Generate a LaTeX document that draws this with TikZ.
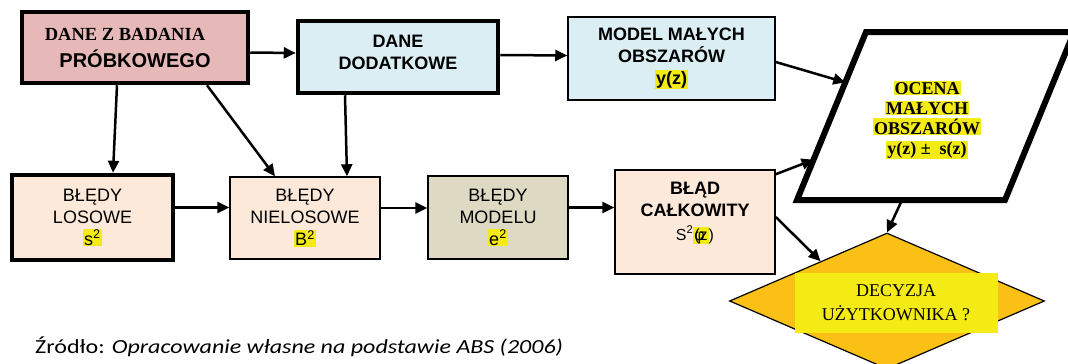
\documentclass[tikz,border=0pt]{standalone}
\usepackage{fontspec}
\setmainfont{Liberation Serif}
\setsansfont{Liberation Sans}
\newfontfamily\srcfont[FakeStretch=1.2]{Carlito}
\usetikzlibrary{arrows.meta,shapes.geometric,calc}
\definecolor{roz}{HTML}{E6B9B8}
\definecolor{blekit}{HTML}{DAEEF3}
\definecolor{brzoskw}{HTML}{FDE9D9}
\definecolor{oliwka}{HTML}{DDD9C3}
\definecolor{zolty}{HTML}{F5EB14}
\definecolor{pomar}{HTML}{FBC015}
\newcommand{\hl}[1]{\colorbox{zolty}{#1}}
\setlength{\fboxsep}{1pt}
\tikzset{
  blok/.style={draw, rectangle, inner sep=0pt, align=center, line width=1.5pt,
    font=\sffamily\fontsize{18}{22}\selectfont},
  napis/.style={inner sep=0pt, align=center, font=\sffamily\bfseries\fontsize{18}{22}\selectfont},
  gruby/.style={line width=4.5pt},
  strz/.style={line width=2.5pt, -{Triangle[length=12pt,width=11pt]}}
}
\begin{document}
\begin{tikzpicture}[x=1pt,y=-1pt]
  \useasboundingbox (0,0) rectangle (1068,364);
  % gorny rzad
  \node[blok, gruby, fill=roz, minimum width=226pt, minimum height=71pt] (probka) at (135,47.5)
    {{\rmfamily\bfseries\fontsize{18.5}{20}\selectfont DANE Z BADANIA\hspace*{20pt}}\\[5pt]{\bfseries\fontsize{20}{24}\selectfont PRÓBKOWEGO}};
  \node[blok, gruby, fill=blekit, minimum width=200pt, minimum height=72pt] (dodatk) at (398,57) {};
  \node[napis] (dodatktxt) at ([yshift=5pt]dodatk.center) {DANE\\DODATKOWE};
  \node[blok, fill=blekit, minimum width=207pt, minimum height=83pt] (model) at (671.5,58.5)
    {\bfseries MODEL MAŁYCH\\\bfseries OBSZARÓW\\\bfseries\hl{y(z)}};
  % dolny rzad
  \node[blok, gruby, fill=brzoskw, minimum width=161pt, minimum height=85pt] (losowe) at (92.5,217.5)
    {BŁĘDY\\LOSOWE\\\hl{s\textsuperscript{2}}};
  \node[blok, fill=brzoskw, minimum width=150pt, minimum height=82pt] (nielos) at (305,218)
    {BŁĘDY\\NIELOSOWE\\\hl{B\textsuperscript{2}}};
  \node[blok, fill=oliwka, minimum width=140pt, minimum height=83pt] (modelu) at (498,217.5)
    {BŁĘDY\\MODELU\\\hl{e\textsuperscript{2}}};
  \node[blok, fill=brzoskw, minimum width=160pt, minimum height=104pt] (calk) at (695,222) {};
  \node[napis] (calktxt) at ([yshift=9pt]calk.center)
    {BŁĄD\\CAŁKOWITY\\[2pt]{\mdseries\fontsize{16}{20}\selectfont S\textsuperscript{2}\hl{\rlap{φ}(z})}};
  % ocena
  \coordinate (p1) at (866,32);
  \coordinate (p2) at (1074,32);
  \coordinate (p3) at (1005,200);
  \coordinate (p4) at (797,200);
  \draw[line width=6pt, fill=white] (p1) -- (p2) -- (p3) -- (p4) -- cycle;
  \node[align=center, inner sep=0pt, font=\rmfamily\bfseries\fontsize{18}{20}\selectfont] (ocena) at (927,120)
    {\hl{OCENA}\\\hl{MAŁYCH}\\\hl{OBSZARÓW}\\\hl{y(z) ±\ \ s(z)}};
  \coordinate (we1) at ($(p1)!0.3!(p4)$);
  \coordinate (we2) at ($(p1)!0.76!(p4)$);
  \coordinate (wy) at ($(p4)!0.505!(p3)$);
  % decyzja
  \node[diamond, draw, fill=pomar, line width=1.2pt, aspect=2.3, inner sep=0pt,
    minimum width=315pt, minimum height=136pt] (decyzja) at (887,301) {};
  \node[fill=zolty, minimum width=203pt, minimum height=60pt, align=center, inner sep=0pt,
    font=\rmfamily\fontsize{18}{24}\selectfont] (dectxt) at (896,303) {DECYZJA\\UŻYTKOWNIKA ?};
  % strzalki
  \draw[strz] ([yshift=-5pt]probka.east) -- ([yshift=4pt]dodatk.west);
  \draw[strz] ([yshift=2pt]dodatk.east) -- ([yshift=3pt]model.west);
  \draw[strz] ([xshift=-18pt]probka.south) -- ([xshift=20.5pt]losowe.north);
  \draw[strz] ([xshift=72pt]probka.south) -- ([xshift=-30pt]nielos.north);
  \draw[strz] ([xshift=-53pt]dodatk.south) -- ([xshift=42pt]nielos.north);
  \foreach \a/\b in {losowe/nielos,nielos/modelu,modelu/calk}
    \draw[strz] ([yshift=10pt]\a.east) -- ([yshift=10pt]\a.east -| \b.west);
  \draw[strz] ([yshift=-3.5pt]model.east) -- (we1);
  \draw[strz] ([yshift=-5pt]calk.north east) -- (we2);
  \draw[strz] ([yshift=5pt]calk.east) -- ($(decyzja.west)!0.58!(decyzja.north)$);
  \draw[strz] (wy) -- (decyzja.north);
  \node[anchor=base west, inner sep=0pt, font=\srcfont\fontsize{20}{22}\selectfont] (zrodlo) at (35,353)
    {Źródło: \textit{Opracowanie własne na podstawie ABS (2006)}};
\end{tikzpicture}
\end{document}
